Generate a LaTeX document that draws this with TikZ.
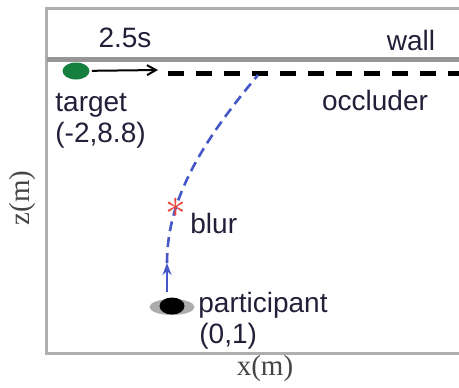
\documentclass[tikz,border=0pt]{standalone}
\usepackage{fontspec}
\setmainfont{Liberation Sans}
\newfontfamily\axisfont{Liberation Serif}
\usepackage{tikz}
\usetikzlibrary{positioning, arrows.meta, shapes.geometric}
\definecolor{tgtgreen}{RGB}{22,128,62}
\definecolor{gazeblue}{RGB}{68,88,200}
\definecolor{blurred}{RGB}{235,70,60}
\definecolor{wallgray}{RGB}{150,150,150}
\definecolor{roomgray}{RGB}{175,175,175}
\definecolor{inkdark}{RGB}{36,30,56}
\definecolor{axisgray}{RGB}{70,70,70}

\begin{document}
\begin{tikzpicture}[x=0.5pt, y=-0.5pt,
    every node/.style={font=\fontsize{14}{16}\selectfont, text=inkdark, inner sep=0pt},
    lbl/.style={anchor=base west},
    axlbl/.style={font=\axisfont\fontsize{14.5}{16}\selectfont, text=axisgray}]
    \clip (0,0) rectangle (459,387);

    % room outline and wall
    \draw[roomgray, line width=1.4pt] (470,353.5) -- (46.5,353.5) -- (46.5,8.5) -- (470,8.5);
    \draw[wallgray, line width=2.5pt] (46.5,59.5) -- (470,59.5);
    \node[anchor=base] (walllbl) at (411,50) {wall};

    % target moving along the wall
    \node[ellipse, fill=tgtgreen, minimum width=13.5pt, minimum height=8.5pt] (target) at (76,71) {};
    \coordinate (tgtstop) at (158,70);
    \draw[-{Straight Barb[length=4.5pt, width=5pt]}, line width=1pt, shorten <=1pt] (target) -- (tgtstop);
    \node[anchor=base] (timelbl) at (125,47) {2.5s};
    \node[lbl] (tgtlbl) at (55,111) {target};
    \node[lbl] (tgtpos) at (55,142) {(-2,8.8)};

    % occluder
    \coordinate (occl) at (168,73.5);
    \coordinate (occr) at (470,73.5);
    \draw[line width=2.6pt, dash pattern=on 8pt off 6pt] (occl) -- (occr);
    \node[anchor=base] (occlbl) at (375,110) {occluder};

    % participant and gaze path
    \node[ellipse, fill=gray!65, minimum width=22.5pt, minimum height=8pt] (eye) at (172,307) {};
    \node[ellipse, fill=black, minimum width=12.5pt, minimum height=8.5pt] (pupil) at (172,306) {};
    \coordinate (look) at (167,292);
    \coordinate (gaze) at (167,263);
    \coordinate (hit) at (258,75);
    \draw[gazeblue, line width=1.3pt, -{Stealth[length=6pt, width=4.5pt]}] (look) -- (gaze);
    \draw[gazeblue, line width=1.3pt, dash pattern=on 5pt off 3pt] (gaze) .. controls (167,205) and (195,150) .. (hit);
    \node[text=blurred, font=\fontsize{22}{22}\selectfont] (blurpt) at (176,208) {$\ast$};
    \node[lbl] (blurlbl) at (190,233) {blur};
    \node[lbl] (partlbl) at (198,312) {participant};
    \node[lbl] (partpos) at (199,343) {(0,1)};

    % axes
    \node[axlbl, anchor=base] (xlbl) at (265,375) {x(m)};
    \node[axlbl, rotate=90] (zlbl) at (23,198) {z(m)};
\end{tikzpicture}
\end{document}
